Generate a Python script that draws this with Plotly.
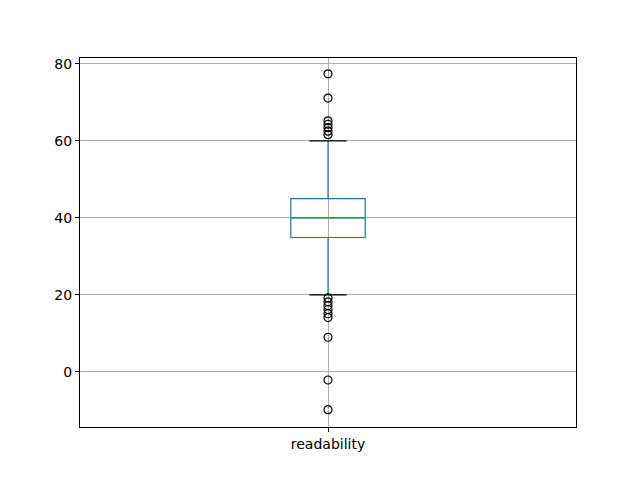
import plotly.graph_objects as go

category = "readability"
q1 = 34.9
median = 40.0
q3 = 45.0
lower_whisker = 20.0
upper_whisker = 60.0
outliers_high = [77.4, 71.1, 65.2, 64.3, 63.4, 62.5, 61.6]
outliers_low = [19.2, 18.2, 17.2, 16.2, 15.1, 14.1, 9.0, -2.1, -9.8]

pos = 1.0
box_w = 0.15
cap_w = box_w / 2

fig = go.Figure()
fig.add_trace(go.Box(
    x=[pos], q1=[q1], median=[median], q3=[q3],
    lowerfence=[lower_whisker], upperfence=[upper_whisker],
    width=box_w, whiskerwidth=0,
    line=dict(color="#1f77b4", width=1.2),
    fillcolor="rgba(0,0,0,0)", boxpoints=False, showlegend=False,
    hoverinfo="skip",
))
# median line (green)
fig.add_trace(go.Scatter(
    x=[pos - box_w / 2, pos + box_w / 2], y=[median, median], mode="lines",
    line=dict(color="#2ca02c", width=1.2), showlegend=False, hoverinfo="skip",
))
# caps (black)
for v in (lower_whisker, upper_whisker):
    fig.add_trace(go.Scatter(
        x=[pos - cap_w / 2, pos + cap_w / 2], y=[v, v], mode="lines",
        line=dict(color="black", width=1.2), showlegend=False, hoverinfo="skip",
    ))
# outliers
fl = outliers_high + outliers_low
fig.add_trace(go.Scatter(
    x=[pos] * len(fl), y=fl, mode="markers",
    marker=dict(symbol="circle-open", color="black", size=8, line=dict(width=1.2)),
    showlegend=False, hoverinfo="skip",
))

axis_common = dict(
    showline=True, linecolor="black", linewidth=1, mirror=True,
    ticks="outside", ticklen=4, tickcolor="black",
    showgrid=True, gridcolor="#b0b0b0", gridwidth=1, zeroline=False,
    tickfont=dict(family="DejaVu Sans", size=14, color="black"),
)
fig.update_layout(
    width=640, height=480,
    margin=dict(l=72, r=72, t=50, b=61),
    paper_bgcolor="white", plot_bgcolor="white",
    xaxis=dict(range=[0.5, 1.5], tickvals=[pos], ticktext=[category], **axis_common),
    yaxis=dict(range=[-14.3, 81.5], tickvals=[0, 20, 40, 60, 80], **axis_common),
)
fig.write_html("out.html")
